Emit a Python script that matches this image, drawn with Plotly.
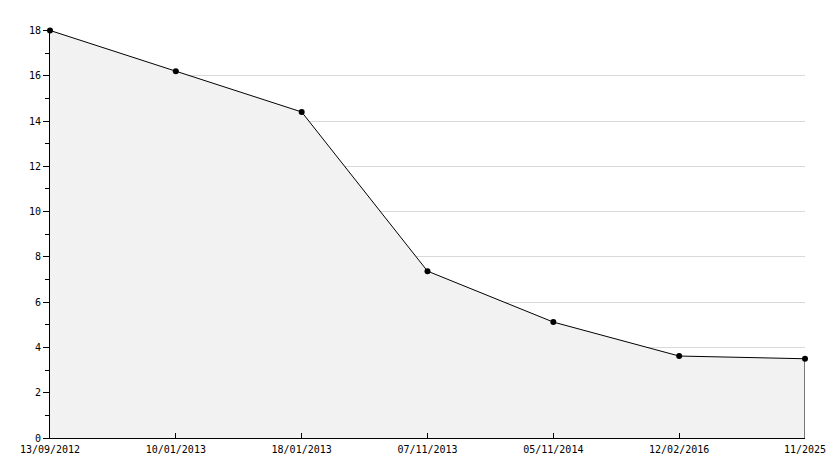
import plotly.graph_objects as go

dates = ["13/09/2012", "10/01/2013", "18/01/2013", "07/11/2013", "05/11/2014", "12/02/2016", "11/2025"]
values = [18.0, 16.2, 14.4, 7.37, 5.12, 3.62, 3.5]
y_ticks = [0, 2, 4, 6, 8, 10, 12, 14, 16, 18]

xs = list(range(len(dates)))

fig = go.Figure()
fig.add_trace(go.Scatter(
    x=xs, y=values, mode="lines+markers", fill="tozeroy",
    fillcolor="#f2f2f2", line=dict(color="black", width=1),
    marker=dict(symbol="circle", size=6, color="black"),
    cliponaxis=False, hoverinfo="skip", showlegend=False))
# right edge of the filled area
fig.add_trace(go.Scatter(
    x=[xs[-1], xs[-1]], y=[values[-1], 0], mode="lines",
    line=dict(color="black", width=1), cliponaxis=False,
    hoverinfo="skip", showlegend=False))

font = dict(family="DejaVu Sans Mono", size=10, color="black")
fig.update_layout(
    width=826, height=460, margin=dict(l=42, r=29, t=22, b=30),
    paper_bgcolor="white", plot_bgcolor="white", font=font,
    xaxis=dict(range=[0, len(dates) - 1], tickvals=xs, ticktext=dates,
               automargin=False, ticklabelstandoff=2,
               showgrid=False, zeroline=False, showline=True, linecolor="black",
               linewidth=1, ticks="inside", ticklen=5, tickcolor="black",
               tickfont=font),
    yaxis=dict(range=[0, 18.02], tickvals=y_ticks, showgrid=True, gridcolor="#d9d9d9",
               automargin=False,
               gridwidth=1, zeroline=False, showline=True, linecolor="black",
               linewidth=1, ticks="outside", ticklen=6, tickcolor="black",
               tickfont=font,
               minor=dict(dtick=1, ticks="outside", ticklen=4, tickcolor="black",
                          showgrid=False)),
)
fig.write_html("out.html")
